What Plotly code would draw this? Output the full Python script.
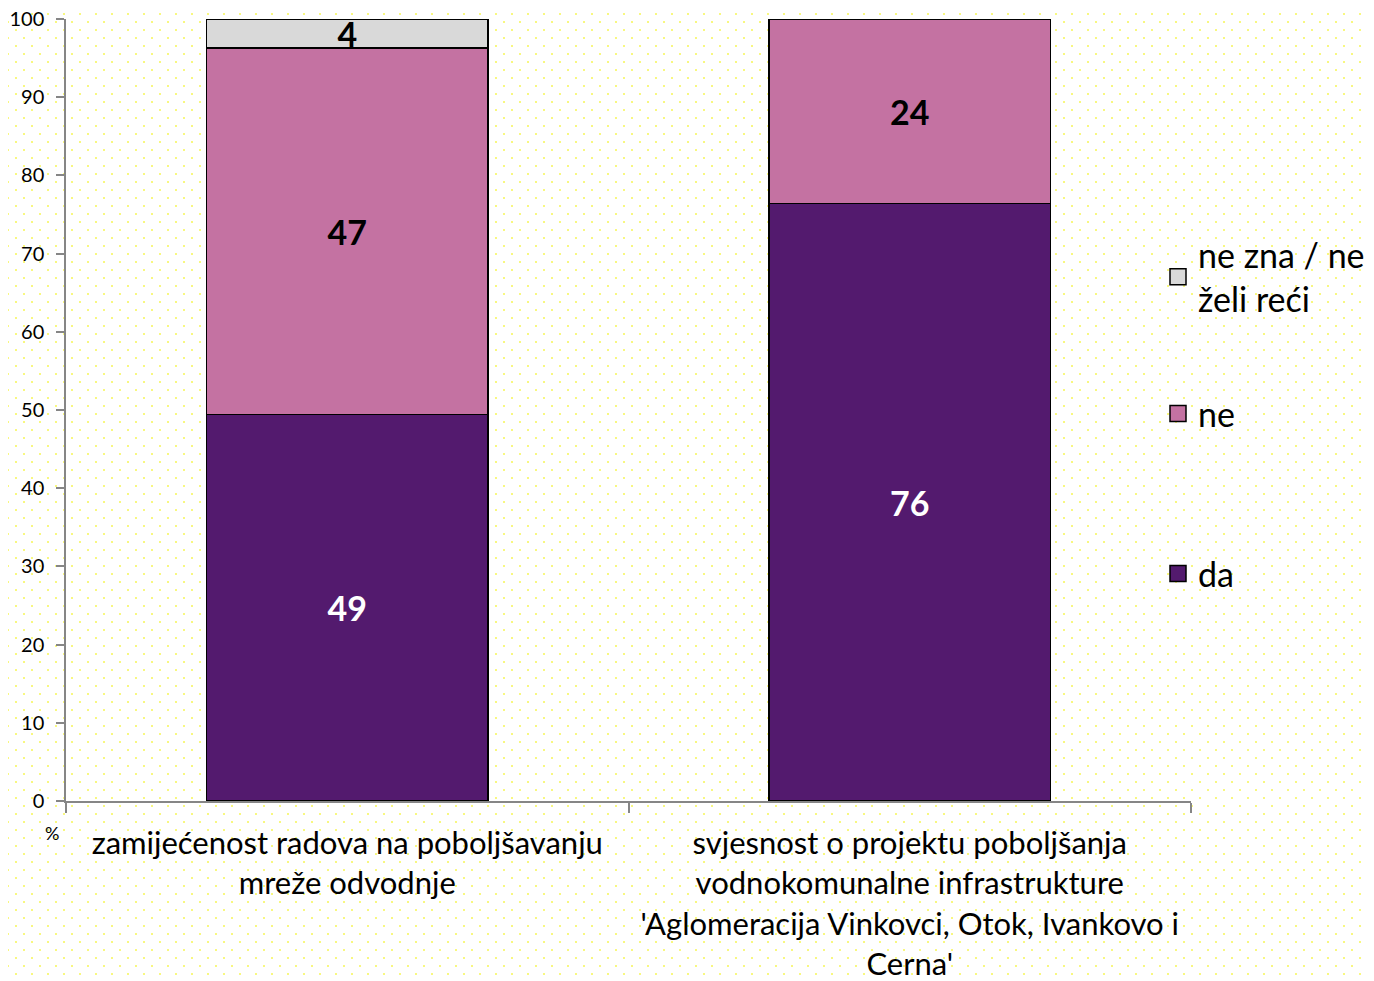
import base64
import plotly.graph_objects as go

categories = [
    "zamijećenost radova na poboljšavanju<br>mreže odvodnje",
    "svjesnost o projektu poboljšanja<br>vodnokomunalne infrastrukture<br>'Aglomeracija Vinkovci, Otok, Ivankovo i<br>Cerna'",
]
series_names = ["da", "ne", "ne zna / ne<br>želi reći"]
da = [49.4, 76.4]
ne = [46.9, 23.6]
ne_zna = [3.7, None]
y_ticks = [0, 10, 20, 30, 40, 50, 60, 70, 80, 90, 100]

colors = ["#531a6e", "#c472a2", "#d9d9d9"]
text_colors = ["white", "black", "black"]
legend_ids = ["legend3", "legend2", "legend"]

OFF = 8  # default page body margin
W, H = 1374 - OFF, 981 - OFF
L, R, T, B = 66 - OFF, 183, 19 - OFF, 180
pw, ph = W - L - R, H - T - B

svg = (
    f'<svg xmlns="http://www.w3.org/2000/svg" width="{W}" height="{H}">'
    '<defs><pattern id="p" width="16" height="16" patternUnits="userSpaceOnUse">'
    '<rect x="15" y="13" width="2" height="2" fill="#f8f880"/>'
    '<rect x="-1" y="13" width="2" height="2" fill="#f8f880"/>'
    '<rect x="7" y="5" width="2" height="2" fill="#f8f880"/>'
    '</pattern></defs>'
    f'<rect width="{W}" height="{H}" fill="white"/>'
    f'<rect width="{W}" height="{H}" fill="url(#p)"/></svg>'
)
bg_src = "data:image/svg+xml;base64," + base64.b64encode(svg.encode()).decode()

fig = go.Figure()
for name, vals, col, tcol, lg in zip(series_names, [da, ne, ne_zna], colors, text_colors, legend_ids):
    fig.add_trace(go.Bar(
        x=categories, y=vals, name=name,
        marker=dict(color=col, line=dict(color="black", width=1.5)),
        texttemplate="%{y:.0f}", textposition="inside", insidetextanchor="middle",
        textangle=0,
        textfont=dict(family="Lato", size=34, color=tcol, weight="bold"),
        showlegend=False,
    ))
    # legend entry with a larger square key
    fig.add_trace(go.Scatter(
        x=[None], y=[None], name=name, mode="markers",
        marker=dict(symbol="square", size=16, color=col, line=dict(color="black", width=1.5)),
        legend=lg, showlegend=True,
    ))


def py(p):
    return (T + ph - (p - OFF)) / ph


def px(p):
    return (p - OFF - L) / pw


leg_common = dict(
    x=px(1158), xanchor="left", yanchor="middle",
    font=dict(family="Lato", size=34, color="black"),
    bgcolor="rgba(0,0,0,0)",
)

fig.update_layout(
    barmode="stack", bargap=0.5,
    width=W, height=H,
    margin=dict(l=L, r=R, t=T, b=B, autoexpand=False),
    paper_bgcolor="white", plot_bgcolor="rgba(0,0,0,0)",
    uniformtext=dict(minsize=34, mode="show"),
    font=dict(family="Lato", color="black"),
    showlegend=True,
    legend=dict(y=py(277), **leg_common),
    legend2=dict(y=py(414), **leg_common),
    legend3=dict(y=py(574), **leg_common),
    images=[dict(
        source=bg_src, xref="paper", yref="paper",
        x=-L / pw, y=1 + T / ph, sizex=W / pw, sizey=H / ph,
        xanchor="left", yanchor="top", sizing="stretch", layer="below",
    )],
    annotations=[dict(
        text="%", xref="paper", yref="paper", x=px(52), y=py(833),
        showarrow=False, font=dict(family="Lato", size=18, color="black"),
        xanchor="center", yanchor="middle",
    )],
)
fig.update_yaxes(
    range=[0, 100], tickvals=y_ticks, showgrid=False, zeroline=False,
    showline=True, linecolor="#868686", linewidth=1.5,
    ticks="outside", ticklen=8, tickcolor="#868686", tickwidth=1.5,
    tickfont=dict(family="Lato", size=20, color="black"),
    ticklabelstandoff=8, automargin=False, ticklabeloverflow="allow",
)
fig.update_xaxes(
    showgrid=False, showline=True, linecolor="#868686", linewidth=1.5,
    ticks="outside", tickson="boundaries", ticklen=10, tickcolor="#868686", tickwidth=1.5,
    tickfont=dict(family="Lato", size=31, color="black"),
    ticklabelstandoff=14, automargin=False, ticklabeloverflow="allow",
)

fig.write_html("out.html")
